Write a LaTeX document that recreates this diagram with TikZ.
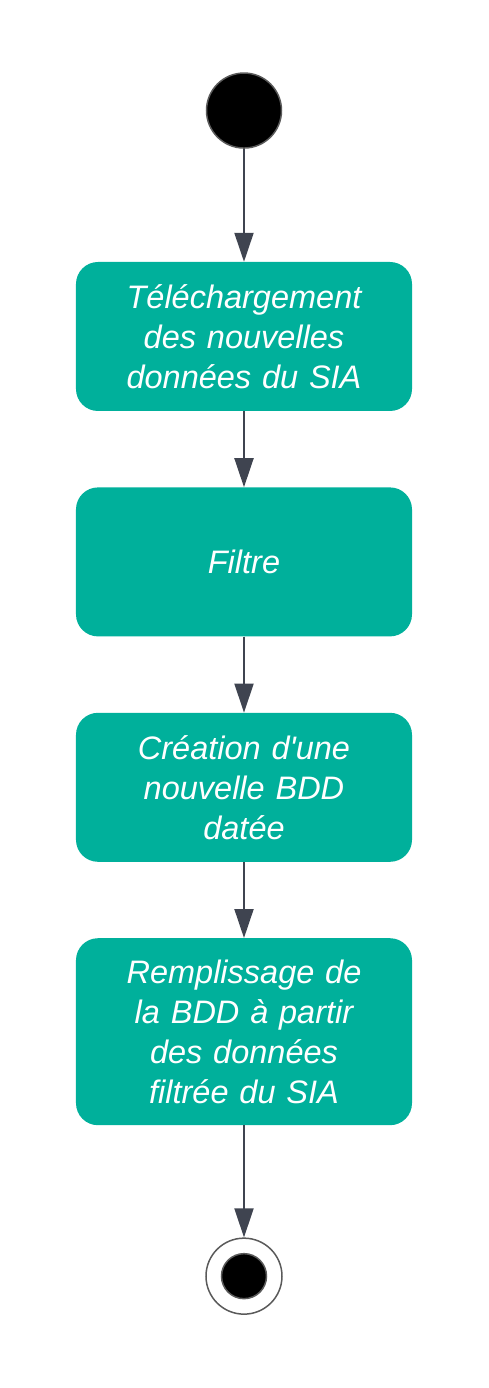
\documentclass[tikz,border=0pt]{standalone}
\usepackage{fontspec}
\setmainfont{Liberation Sans}
\usetikzlibrary{arrows.meta,chains,positioning}

\definecolor{actteal}{HTML}{00B09B}
\definecolor{flowgray}{HTML}{3F4450}
\definecolor{rimgray}{HTML}{5A5A5A}

\tikzset{
  stepbox/.style={rectangle,rounded corners=22pt,fill=actteal,text=white,
    minimum width=336pt,text width=310pt,align=center,inner sep=0pt,
    font=\fontsize{32.5}{40}\selectfont\itshape},
  startdot/.style={circle,fill=black,draw=rimgray,line width=1.5pt,minimum size=75pt,inner sep=0pt},
  enddot/.style={circle,fill=white,draw=rimgray,line width=1.5pt,minimum size=76pt,inner sep=0pt},
  enddotin/.style={circle,fill=black,draw=rimgray,line width=1.5pt,minimum size=45pt,inner sep=0pt},
  flow/.style={draw=flowgray,line width=2pt,-{Triangle[width=19pt,length=29pt]},fill=flowgray}
}

\begin{document}
\begin{tikzpicture}

\useasboundingbox (-244pt,336.5pt) rectangle (244pt,-1051.5pt);

\begin{scope}[start chain=going below,node distance=76pt]
\def\steps{1/149/{Téléchargement\\des nouvelles\\données du SIA},
  2/149/{Filtre},
  3/149/{Création d\textquotesingle une\\nouvelle BDD\\datée},
  4/187/{Remplissage de\\la BDD à partir\\des données\\filtrée du SIA}}
\foreach \i / \h / \element in \steps
  \node [stepbox,minimum height=\h pt,on chain] (s\i) {\element};
\end{scope}

\node [startdot,above=113pt of s1] (start) {};
\node [enddot,below=112pt of s4] (stop) {};
\node [enddotin] (stopin) at (stop) {};

\draw [flow] (start.south) -- (s1.north);
\draw [flow] (s1.south) -- (s2.north);
\draw [flow] (s2.south) -- (s3.north);
\draw [flow] (s3.south) -- (s4.north);
\draw [flow] (s4.south) -- (stop.north);

\end{tikzpicture}
\end{document}
